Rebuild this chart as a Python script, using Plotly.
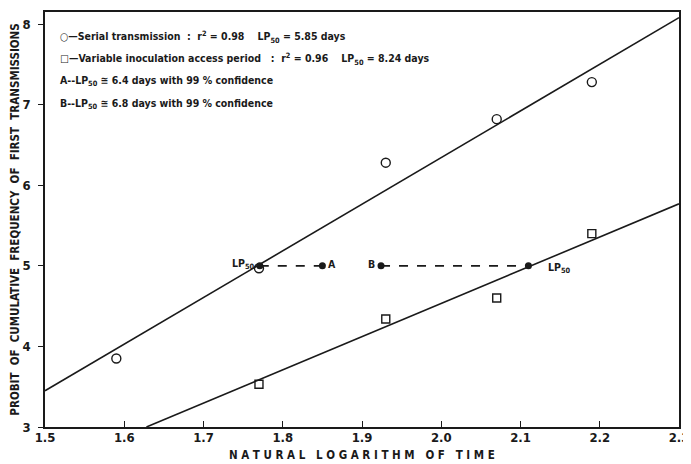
import plotly.graph_objects as go

# Data
serial_x = [1.59, 1.77, 1.93, 2.07, 2.19]
serial_y = [3.85, 4.97, 6.28, 6.82, 7.28]
variable_x = [1.77, 1.93, 2.07, 2.19]
variable_y = [3.53, 4.34, 4.60, 5.40]

# Fitted regression lines (end points)
serial_fit_x = [1.5, 2.3]
serial_fit_y = [3.45, 8.08]
variable_fit_x = [1.628, 2.3]
variable_fit_y = [3.0, 5.77]

# LP50 estimates and confidence markers
lp50_a_x = [1.771, 1.85]
lp50_a_y = [5.0, 5.0]
lp50_b_x = [1.924, 2.11]
lp50_b_y = [5.0, 5.0]

x_ticks = [1.5, 1.6, 1.7, 1.8, 1.9, 2.0, 2.1, 2.2, 2.3]
x_tick_labels = ["1.5", "1.6", "1.7", "1.8", "1.9", "2.0", "2.1", "2.2", "2.3"]
y_ticks = [3, 4, 5, 6, 7, 8]

FONT = "DejaVu Sans Condensed"
INK = "#1a1a1a"

fig = go.Figure()

fig.add_trace(go.Scatter(x=serial_fit_x, y=serial_fit_y, mode="lines",
                         line=dict(color=INK, width=1.6), showlegend=False))
fig.add_trace(go.Scatter(x=variable_fit_x, y=variable_fit_y, mode="lines",
                         line=dict(color=INK, width=1.6), showlegend=False))

fig.add_trace(go.Scatter(x=lp50_a_x, y=lp50_a_y, mode="lines+markers",
                         line=dict(color=INK, width=1.6, dash="dash"),
                         marker=dict(symbol="circle", size=7, color=INK),
                         showlegend=False))
fig.add_trace(go.Scatter(x=lp50_b_x, y=lp50_b_y, mode="lines+markers",
                         line=dict(color=INK, width=1.6, dash="dash"),
                         marker=dict(symbol="circle", size=7, color=INK),
                         showlegend=False))

fig.add_trace(go.Scatter(x=serial_x, y=serial_y, mode="markers",
                         marker=dict(symbol="circle-open", size=9, color=INK,
                                     line=dict(width=1.4)),
                         showlegend=False))
fig.add_trace(go.Scatter(x=variable_x, y=variable_y, mode="markers",
                         marker=dict(symbol="square-open", size=8, color=INK,
                                     line=dict(width=1.4)),
                         showlegend=False))

tf = dict(family=FONT, size=10.5, color=INK, weight="bold")
legend_lines = [
    "○—Serial transmission  :  r<sup>2</sup> = 0.98    LP<sub>50</sub> = 5.85 days",
    "□—Variable inoculation access period   :  r<sup>2</sup> = 0.96    LP<sub>50</sub> = 8.24 days",
    "A--LP<sub>50</sub> ≅ 6.4 days with 99 % confidence",
    "B--LP<sub>50</sub> ≅ 6.8 days with 99 % confidence",
]
for i, t in enumerate(legend_lines):
    fig.add_annotation(x=0.02, y=7.84 - i * 0.276, xref="paper", yref="y",
                       text=t, showarrow=False, xanchor="left", yanchor="middle",
                       font=tf)

fig.add_annotation(x=lp50_a_x[0], y=5.0, text="LP<sub>50</sub>", showarrow=False,
                   xanchor="right", xshift=-3, yshift=2, font=tf)
fig.add_annotation(x=lp50_a_x[1], y=5.0, text="A", showarrow=False,
                   xanchor="left", xshift=4, yshift=2, font=tf)
fig.add_annotation(x=lp50_b_x[0], y=5.0, text="B", showarrow=False,
                   xanchor="right", xshift=-4, yshift=2, font=tf)
fig.add_annotation(x=lp50_b_x[1], y=5.0, text="LP<sub>50</sub>", showarrow=False,
                   xanchor="left", xshift=18, yshift=-2, font=tf)

# x-axis title placed just under the tick labels
fig.add_annotation(x=0.5, y=0, xref="paper", yref="paper", yanchor="middle",
                   yshift=-28, showarrow=False,
                   text="N A T U R A L   L O G A R I T H M   O F   T I M E",
                   font=dict(family=FONT, size=11.5, color=INK, weight="bold"))

# The page body adds an 8 px offset, so the figure is sized to fit the window
fig.update_layout(
    width=683, height=456,
    margin=dict(l=37, r=8, t=2, b=37),
    paper_bgcolor="white", plot_bgcolor="white",
    font=dict(family=FONT, color=INK, size=13),
    xaxis=dict(range=[1.5, 2.3], tickvals=x_ticks, ticktext=x_tick_labels,
               showgrid=False, zeroline=False, showline=True, mirror=True,
               linecolor=INK, linewidth=1.6, ticks="inside", ticklen=6,
               tickcolor=INK, ticklabelstandoff=-2, ticklabeloverflow="allow",
               tickfont=dict(family=FONT, size=13, color=INK, weight="bold")),
    yaxis=dict(range=[3, 8.15], tickvals=y_ticks,
               showgrid=False, zeroline=False, showline=True, mirror=True,
               linecolor=INK, linewidth=1.6, ticks="outside", ticklen=5,
               tickcolor=INK, ticklabelstandoff=5,
               tickfont=dict(family=FONT, size=13, color=INK, weight="bold"),
               title=dict(text="PROBIT  OF  CUMULATIVE  FREQUENCY  OF  FIRST  TRANSMISSIONS",
                          font=dict(family=FONT, size=11.5, color=INK, weight="bold"),
                          standoff=2)),
)

fig.write_html("out.html")
